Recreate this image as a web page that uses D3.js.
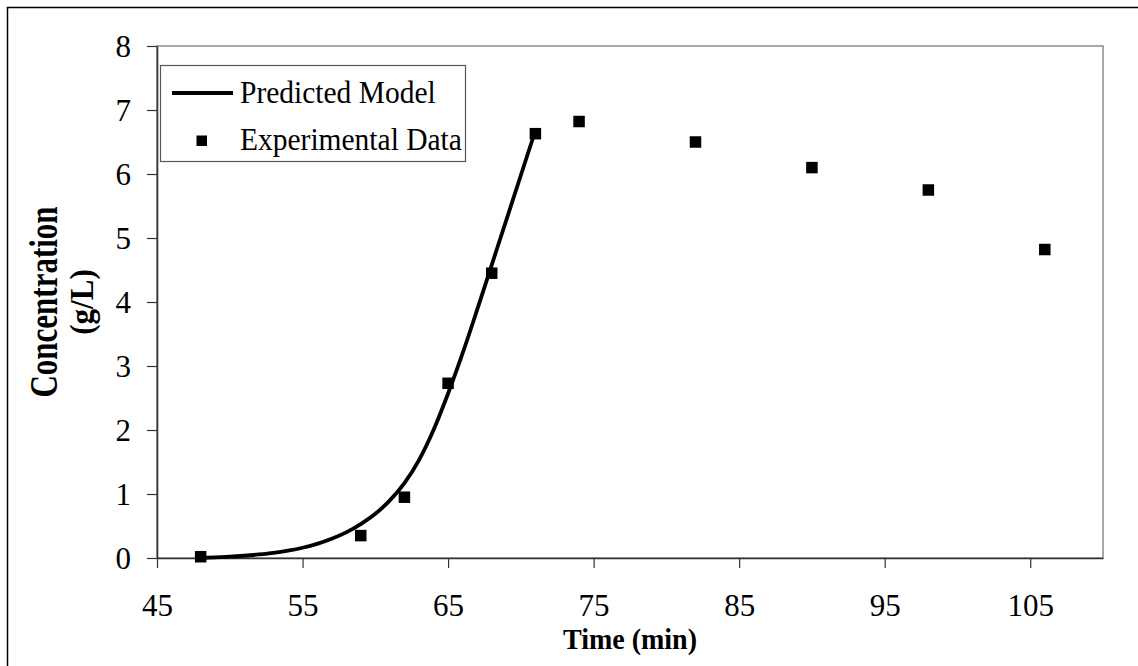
<!DOCTYPE html>
<html>
<head>
<meta charset="utf-8">
<script src="https://cdn.jsdelivr.net/npm/d3@7"></script>
<style>
  body { margin: 0; background: #fff; }
  svg text { font-family: "Liberation Serif", "Times New Roman", serif; fill: #000; }
</style>
</head>
<body>
<div id="chart"></div>
<script>
// Experimental data
var expTime = [48, 59, 62, 65, 68, 71, 74, 82, 90, 98, 106];
var expConc = [0.02, 0.35, 0.95, 2.73, 4.45, 6.63, 6.82, 6.5, 6.1, 5.75, 4.82];

// Predicted model
var modelTime = [48, 49, 50, 51, 52, 53, 54, 55, 56, 57, 58, 59, 60, 61, 62, 63, 64, 65, 66, 67, 68, 69, 70, 71];
var modelConc = [0.0, 0.01, 0.02, 0.035, 0.055, 0.08, 0.115, 0.16, 0.22, 0.30, 0.40, 0.53, 0.69, 0.90, 1.17, 1.53, 2.00, 2.57, 3.20, 3.88, 4.58, 5.28, 5.98, 6.68];

var xTicks = [45, 55, 65, 75, 85, 95, 105];
var yTicks = [0, 1, 2, 3, 4, 5, 6, 7, 8];

var W = 1138, H = 666;
var margin = {left: 157, right: 35, top: 46, bottom: 108};
var width = W - margin.left - margin.right;
var height = H - margin.top - margin.bottom;

var svg = d3.select("#chart").append("svg")
    .attr("width", W)
    .attr("height", H);

// Outer frame (runs off the right and bottom edge)
svg.append("rect")
    .attr("x", 7.5).attr("y", 7.5)
    .attr("width", W + 20).attr("height", H + 20)
    .attr("fill", "none")
    .attr("stroke", "#000")
    .attr("stroke-width", 1.5);

var g = svg.append("g")
    .attr("transform", "translate(" + margin.left + "," + margin.top + ")");

var x = d3.scaleLinear().domain([45, 110]).range([0, width]);
var y = d3.scaleLinear().domain([0, 8]).range([height, 0]);

// Plot area border (grey top/right)
g.append("rect")
    .attr("x", 0).attr("y", 0)
    .attr("width", width).attr("height", height)
    .attr("fill", "none")
    .attr("stroke", "#8c8c8c")
    .attr("stroke-width", 1.5);

// Axes
var xAxis = g.append("g")
    .attr("transform", "translate(0," + height + ")")
    .call(d3.axisBottom(x).tickValues(xTicks).tickSize(10).tickSizeOuter(0));
var yAxis = g.append("g")
    .call(d3.axisLeft(y).tickValues(yTicks).tickSize(10).tickPadding(16).tickSizeOuter(0));

[xAxis, yAxis].forEach(function(a) {
    a.select(".domain").attr("stroke", "#333").attr("stroke-width", 1.6);
    a.selectAll(".tick line").attr("stroke", "#333").attr("stroke-width", 1.2);
    a.selectAll(".tick text")
        .attr("font-family", "Liberation Serif")
        .attr("font-size", 31)
        .attr("fill", "#000");
});
xAxis.selectAll(".tick text").attr("y", 58).attr("dy", 0);
yAxis.selectAll(".tick text").attr("dy", "0.35em");

// Model curve
var line = d3.line()
    .x(function(d, i) { return x(modelTime[i]); })
    .y(function(d, i) { return y(modelConc[i]); })
    .curve(d3.curveMonotoneX);

g.append("path")
    .datum(modelTime)
    .attr("d", line)
    .attr("fill", "none")
    .attr("stroke", "#000")
    .attr("stroke-width", 3.8);

// Experimental squares
var sq = 11.5;
g.selectAll(".pt")
    .data(expTime)
    .enter().append("rect")
    .attr("class", "pt")
    .attr("x", function(d) { return x(d) - sq / 2; })
    .attr("y", function(d, i) { return y(expConc[i]) - sq / 2; })
    .attr("width", sq).attr("height", sq)
    .attr("fill", "#000");

// Legend
var leg = svg.append("g");
leg.append("rect")
    .attr("x", 160.5).attr("y", 65.5)
    .attr("width", 305).attr("height", 96)
    .attr("fill", "#fff")
    .attr("stroke", "#555")
    .attr("stroke-width", 1.2);
leg.append("line")
    .attr("x1", 172).attr("x2", 233)
    .attr("y1", 93).attr("y2", 93)
    .attr("stroke", "#000").attr("stroke-width", 3.8);
leg.append("text")
    .attr("transform", "translate(240,103) scale(1,1.08)")
    .attr("font-size", 29.5)
    .text("Predicted Model");
leg.append("rect")
    .attr("x", 196.5).attr("y", 135.5)
    .attr("width", 10.5).attr("height", 10.5)
    .attr("fill", "#000");
leg.append("text")
    .attr("transform", "translate(240,150) scale(1,1.08)")
    .attr("font-size", 29.5)
    .text("Experimental Data");

// Axis titles
svg.append("text")
    .attr("transform", "translate(" + (margin.left + width / 2) + ",649) scale(1,1.04)")
    .attr("text-anchor", "middle")
    .attr("font-size", 28)
    .attr("font-weight", "bold")
    .text("Time (min)");

var yMid = margin.top + height / 2;
svg.append("text")
    .attr("transform", "translate(57," + yMid + ") rotate(-90) scale(1,1.3)")
    .attr("text-anchor", "middle")
    .attr("font-size", 31)
    .attr("font-weight", "bold")
    .text("Concentration");
svg.append("text")
    .attr("transform", "translate(93," + yMid + ") rotate(-90) scale(1,1.08)")
    .attr("text-anchor", "middle")
    .attr("font-size", 31)
    .attr("font-weight", "bold")
    .text("(g/L)");
</script>
</body>
</html>
